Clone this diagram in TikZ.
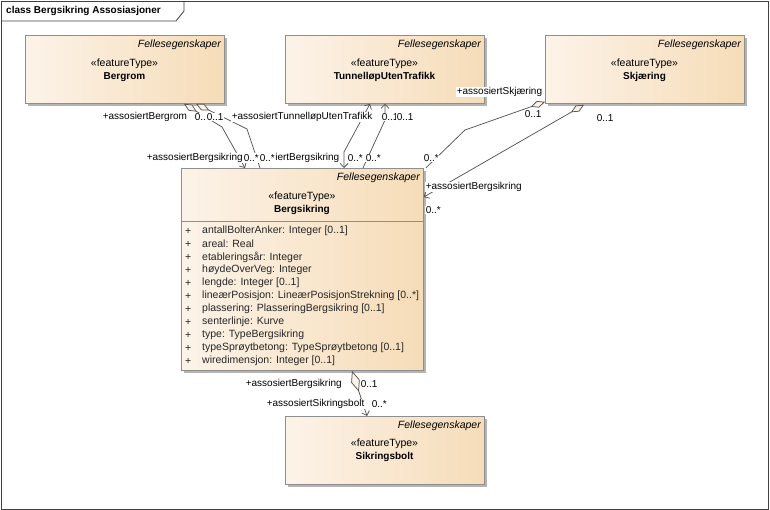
\documentclass[tikz,border=0pt]{standalone}
\usepackage{fontspec}
\setmainfont{Liberation Sans}
\usetikzlibrary{arrows.meta,shadows,calc}
\definecolor{boxL}{HTML}{FCF3E8}
\definecolor{boxR}{HTML}{F6DCB8}
\definecolor{edgec}{HTML}{8E8E8E}
\definecolor{connc}{HTML}{555555}
\definecolor{shadowc}{HTML}{B4B4B4}
\definecolor{framec}{HTML}{404040}
\begin{document}
\begin{tikzpicture}[x=1pt,y=-1pt,
  font=\fontsize{10}{12}\selectfont,
  classbox/.style={draw=edgec, line width=0.8pt, left color=boxL, right color=boxR,
    anchor=north west, inner sep=0pt,
    general shadow={fill=shadowc, shadow xshift=3pt, shadow yshift=-3pt}},
  txt/.style={inner sep=0pt, text=black},
  fellestxt/.style={txt, anchor=east, font=\fontsize{10.5}{12}\selectfont\itshape},
  stereotxt/.style={txt, font=\fontsize{10.5}{12}\selectfont},
  nametxt/.style={txt, font=\fontsize{10}{12}\selectfont\bfseries},
  attrtxt/.style={txt, anchor=west, text=black!85, font=\fontsize{10.5}{12}\selectfont},
  lbl/.style={fill=white, inner sep=0.6pt, anchor=west, text=black},
  connline/.style={draw=connc, line width=0.75pt},
  aggD/.tip={Diamond[length=15pt,width=7pt,fill=boxL]},
  aggL/.tip={Diamond[length=22pt,width=9pt,fill=boxL]},
  navB/.tip={Straight Barb[length=4pt,width=8pt]},
]
\useasboundingbox (0,0) rectangle (770,510);
% frame
\draw[framec, line width=0.8pt] (1,1) rectangle (768.5,509);
\draw[framec, line width=0.8pt] (1,21) -- (176,21) -- (184,11) -- (184,1);
\node[txt, anchor=west, font=\fontsize{10}{12}\selectfont\bfseries] (title) at (6,11) {class Bergsikring Assosiasjoner};

% boxes
\node[classbox, minimum width=199pt, minimum height=68pt] (bergrom) at (25,35) {};
\node[fellestxt] (bergromF) at (221,45) {Fellesegenskaper};
\node[stereotxt] (bergromS) at (124.5,64) {«featureType»};
\node[nametxt] (bergromN) at (124.5,77) {Bergrom};

\node[classbox, minimum width=199pt, minimum height=68pt] (tunnel) at (285,35) {};
\node[fellestxt] (tunnelF) at (481,45) {Fellesegenskaper};
\node[stereotxt] (tunnelS) at (384.5,64) {«featureType»};
\node[nametxt] (tunnelN) at (384.5,77) {TunnelløpUtenTrafikk};

\node[classbox, minimum width=199pt, minimum height=68pt] (skj) at (545,35) {};
\node[fellestxt] (skjF) at (741,45) {Fellesegenskaper};
\node[stereotxt] (skjS) at (644.5,64) {«featureType»};
\node[nametxt] (skjN) at (644.5,77) {Skjæring};

\node[classbox, minimum width=242pt, minimum height=202pt] (bergsikring) at (181,168) {};
\node[fellestxt] (bsF) at (420,178) {Fellesegenskaper};
\node[stereotxt] (bsS) at (302,197) {«featureType»};
\node[nametxt] (bsN) at (302,210) {Bergsikring};
\draw[edgec, line width=0.8pt] ($(bergsikring.north west)+(0,53)$) -- ($(bergsikring.north east)+(0,53)$);
\foreach \t [count=\i] in {antallBolterAnker: Integer [0..1], areal: Real, etableringsår: Integer, høydeOverVeg: Integer, lengde: Integer [0..1], lineærPosisjon: LineærPosisjonStrekning [0..*], plassering: PlasseringBergsikring [0..1], senterlinje: Kurve, type: TypeBergsikring, typeSprøytbetong: TypeSprøytbetong [0..1], wiredimensjon: Integer [0..1]}{
  \node[attrtxt] (plus\i) at (185,{218+13*\i}) {+};
  \node[attrtxt] (attr\i) at (202,{218+13*\i}) {\t};
}

\node[classbox, minimum width=199pt, minimum height=68pt] (bolt) at (285,416) {};
\node[fellestxt] (boltF) at (481,426) {Fellesegenskaper};
\node[stereotxt] (boltS) at (384.5,444) {«featureType»};
\node[nametxt] (boltN) at (384.5,457) {Sikringsbolt};

% connectors
\draw[connline, aggD-navB] ($(bergrom.south west)+(159,0)$) -- (222,127) -- ($(bergsikring.north west)+(64,0)$);
\draw[connline, aggD-] ($(bergrom.south west)+(171,0)$) -- (247,129) -- ($(bergsikring.north west)+(79,0)$);
\draw[connline, navB-navB] ($(tunnel.south west)+(85,0)$) -- (344,152) -- ($(bergsikring.north west)+(163,0)$);
\draw[connline, navB-] ($(tunnel.south west)+(100,0)$) -- (385,120) -- ($(bergsikring.north west)+(182,0)$);
\draw[connline, aggD-] ($(skj.south west)+(0,-2)$) -- (465,130) -- ($(bergsikring.north east)+(2,0)$);
\draw[connline, aggD-navB] ($(skj.south west)+(39,1)$) -- ($(bergsikring.north east)+(0,29)$);
\draw[connline, aggL-navB] ($(bergsikring.south west)+(171,0)$) -- ($(bolt.north west)+(82,0)$);

% labels
\node[lbl] (l1) at (102,117) {+assosiertBergrom};
\node[lbl] (l2) at (194,117) {0..1};
\node[lbl] (l3) at (206,117) {0..1};
\node[lbl] (l4) at (231,117) {+assosiertTunnelløpUtenTrafikk};
\node[lbl] (l5) at (381,117) {0..1};
\node[lbl] (l6) at (396,117) {0..1};
\node[lbl] (l7) at (456,92) {+assosiertSkjæring};
\node[lbl] (l8) at (524,114) {0..1};
\node[lbl] (l9) at (596,118) {0..1};
\node[lbl] (l10) at (146,158) {+assosiertBergsikring};
\node[lbl, anchor=east] (l11) at (340,158) {+assosiertBergsikring};
\node[lbl] (l12) at (243,158) {0..*};
\node[lbl] (l13) at (259,158) {0..*};
\node[lbl] (l14) at (347,158) {0..*};
\node[lbl] (l15) at (365,158) {0..*};
\node[lbl] (l16) at (423,158) {0..*};
\node[lbl] (l17) at (425,187) {+assosiertBergsikring};
\node[lbl] (l18) at (425,210) {0..*};
\node[lbl] (l19) at (245,384) {+assosiertBergsikring};
\node[lbl] (l20) at (360,384) {0..1};
\node[lbl] (l21) at (266,404) {+assosiertSikringsbolt};
\node[lbl] (l22) at (371,404) {0..*};
\end{tikzpicture}
\end{document}
